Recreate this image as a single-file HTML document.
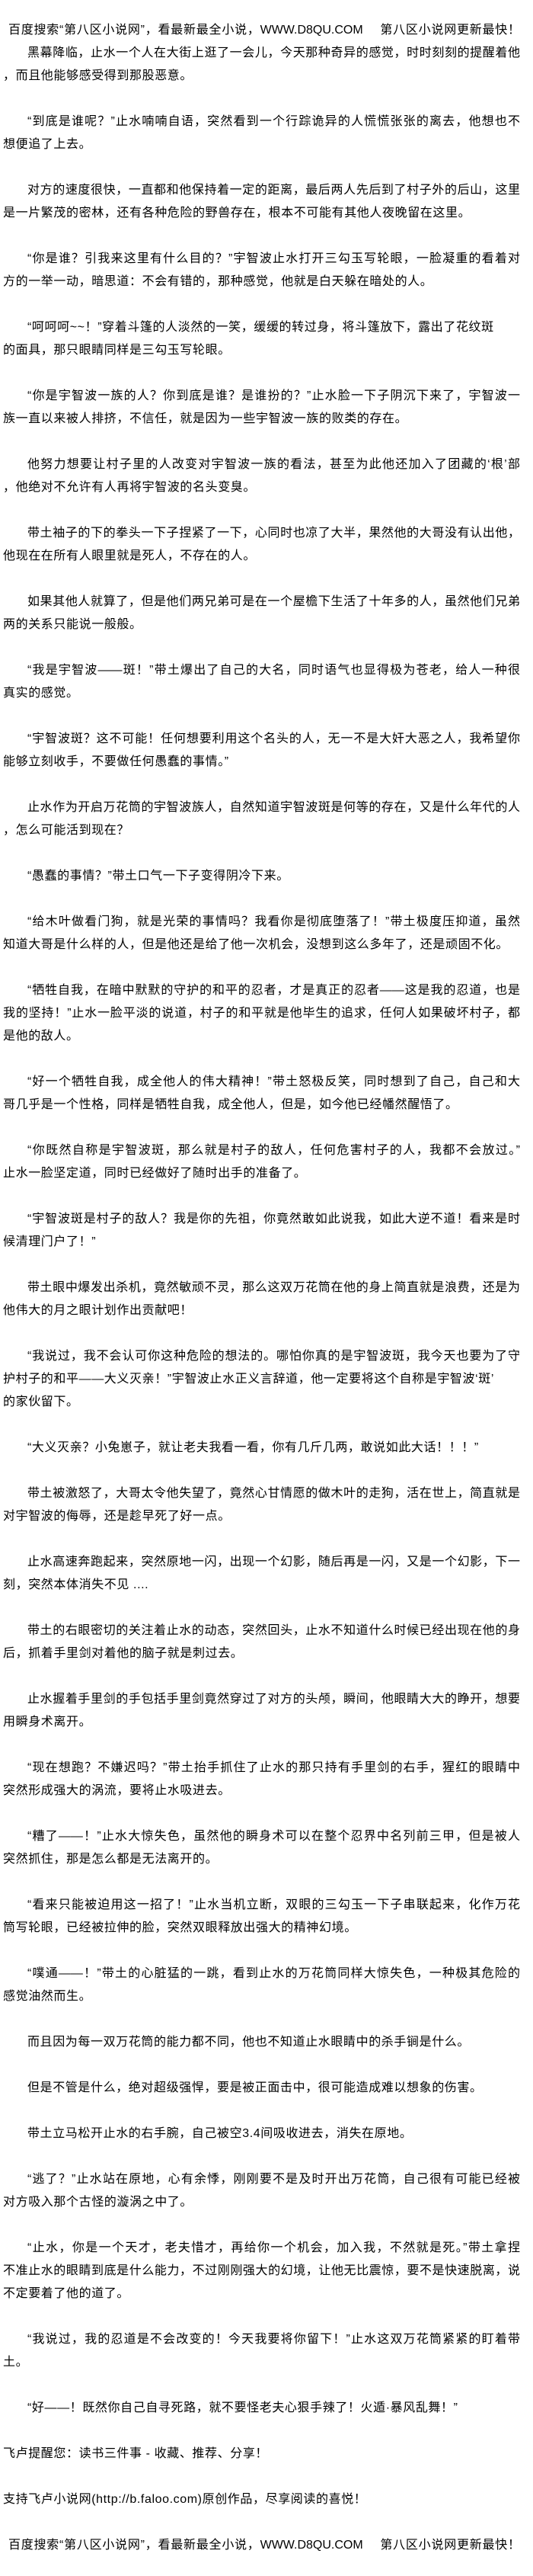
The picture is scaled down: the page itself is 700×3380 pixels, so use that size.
<!DOCTYPE html>
<html><head><meta charset="utf-8">
<style>
html,body{margin:0;padding:0;background:#fff;}
body{width:700px;height:3380px;overflow:hidden;}
#c{padding-top:25px;}
.l{height:30px;line-height:30px;white-space:nowrap;font-family:"Liberation Sans","Noto Sans CJK SC",sans-serif;font-size:16px;letter-spacing:0.6px;color:#000;padding-left:4px;box-sizing:border-box;}
.i{padding-left:36px;}
.h{padding-left:11px;}
.j{width:683px;text-align:justify;text-align-last:justify;letter-spacing:0;}
</style></head><body><div id="c">
<div class="l h j">百度搜索“第八区小说网”，看最新最全小说，WWW.D8QU.COM　 第八区小说网更新最快！</div>
<div class="l i j">黑幕降临，止水一个人在大街上逛了一会儿，今天那种奇异的感觉，时时刻刻的提醒着他</div>
<div class="l">，而且他能够感受得到那股恶意。</div>
<div class="l"></div>
<div class="l i j">“到底是谁呢？”止水喃喃自语，突然看到一个行踪诡异的人慌慌张张的离去，他想也不</div>
<div class="l">想便追了上去。</div>
<div class="l"></div>
<div class="l i j">对方的速度很快，一直都和他保持着一定的距离，最后两人先后到了村子外的后山，这里</div>
<div class="l">是一片繁茂的密林，还有各种危险的野兽存在，根本不可能有其他人夜晚留在这里。</div>
<div class="l"></div>
<div class="l i j">“你是谁？引我来这里有什么目的？”宇智波止水打开三勾玉写轮眼，一脸凝重的看着对</div>
<div class="l">方的一举一动，暗思道：不会有错的，那种感觉，他就是白天躲在暗处的人。</div>
<div class="l"></div>
<div class="l i">“呵呵呵~~！”穿着斗篷的人淡然的一笑，缓缓的转过身，将斗篷放下，露出了花纹斑</div>
<div class="l">的面具，那只眼睛同样是三勾玉写轮眼。</div>
<div class="l"></div>
<div class="l i j">“你是宇智波一族的人？你到底是谁？是谁扮的？”止水脸一下子阴沉下来了，宇智波一</div>
<div class="l">族一直以来被人排挤，不信任，就是因为一些宇智波一族的败类的存在。</div>
<div class="l"></div>
<div class="l i j">他努力想要让村子里的人改变对宇智波一族的看法，甚至为此他还加入了团藏的‘根’部</div>
<div class="l">，他绝对不允许有人再将宇智波的名头变臭。</div>
<div class="l"></div>
<div class="l i j">带土袖子的下的拳头一下子捏紧了一下，心同时也凉了大半，果然他的大哥没有认出他，</div>
<div class="l">他现在在所有人眼里就是死人，不存在的人。</div>
<div class="l"></div>
<div class="l i j">如果其他人就算了，但是他们两兄弟可是在一个屋檐下生活了十年多的人，虽然他们兄弟</div>
<div class="l">两的关系只能说一般般。</div>
<div class="l"></div>
<div class="l i j">“我是宇智波——斑！”带土爆出了自己的大名，同时语气也显得极为苍老，给人一种很</div>
<div class="l">真实的感觉。</div>
<div class="l"></div>
<div class="l i j">“宇智波斑？这不可能！任何想要利用这个名头的人，无一不是大奸大恶之人，我希望你</div>
<div class="l">能够立刻收手，不要做任何愚蠢的事情。”</div>
<div class="l"></div>
<div class="l i j">止水作为开启万花筒的宇智波族人，自然知道宇智波斑是何等的存在，又是什么年代的人</div>
<div class="l">，怎么可能活到现在？</div>
<div class="l"></div>
<div class="l i">“愚蠢的事情？”带土口气一下子变得阴冷下来。</div>
<div class="l"></div>
<div class="l i j">“给木叶做看门狗，就是光荣的事情吗？我看你是彻底堕落了！”带土极度压抑道，虽然</div>
<div class="l">知道大哥是什么样的人，但是他还是给了他一次机会，没想到这么多年了，还是顽固不化。</div>
<div class="l"></div>
<div class="l i j">“牺牲自我，在暗中默默的守护的和平的忍者，才是真正的忍者——这是我的忍道，也是</div>
<div class="l j">我的坚持！”止水一脸平淡的说道，村子的和平就是他毕生的追求，任何人如果破坏村子，都</div>
<div class="l">是他的敌人。</div>
<div class="l"></div>
<div class="l i j">“好一个牺牲自我，成全他人的伟大精神！”带土怒极反笑，同时想到了自己，自己和大</div>
<div class="l">哥几乎是一个性格，同样是牺牲自我，成全他人，但是，如今他已经幡然醒悟了。</div>
<div class="l"></div>
<div class="l i j">“你既然自称是宇智波斑，那么就是村子的敌人，任何危害村子的人，我都不会放过。”</div>
<div class="l">止水一脸坚定道，同时已经做好了随时出手的准备了。</div>
<div class="l"></div>
<div class="l i j">“宇智波斑是村子的敌人？我是你的先祖，你竟然敢如此说我，如此大逆不道！看来是时</div>
<div class="l">候清理门户了！”</div>
<div class="l"></div>
<div class="l i j">带土眼中爆发出杀机，竟然敏顽不灵，那么这双万花筒在他的身上简直就是浪费，还是为</div>
<div class="l">他伟大的月之眼计划作出贡献吧！</div>
<div class="l"></div>
<div class="l i j">“我说过，我不会认可你这种危险的想法的。哪怕你真的是宇智波斑，我今天也要为了守</div>
<div class="l">护村子的和平——大义灭亲！”宇智波止水正义言辞道，他一定要将这个自称是宇智波‘斑’</div>
<div class="l">的家伙留下。</div>
<div class="l"></div>
<div class="l i">“大义灭亲？小兔崽子，就让老夫我看一看，你有几斤几两，敢说如此大话！！！”</div>
<div class="l"></div>
<div class="l i j">带土被激怒了，大哥太令他失望了，竟然心甘情愿的做木叶的走狗，活在世上，简直就是</div>
<div class="l">对宇智波的侮辱，还是趁早死了好一点。</div>
<div class="l"></div>
<div class="l i j">止水高速奔跑起来，突然原地一闪，出现一个幻影，随后再是一闪，又是一个幻影，下一</div>
<div class="l">刻，突然本体消失不见 ....</div>
<div class="l"></div>
<div class="l i j">带土的右眼密切的关注着止水的动态，突然回头，止水不知道什么时候已经出现在他的身</div>
<div class="l">后，抓着手里剑对着他的脑子就是刺过去。</div>
<div class="l"></div>
<div class="l i j">止水握着手里剑的手包括手里剑竟然穿过了对方的头颅，瞬间，他眼睛大大的睁开，想要</div>
<div class="l">用瞬身术离开。</div>
<div class="l"></div>
<div class="l i j">“现在想跑？不嫌迟吗？”带土抬手抓住了止水的那只持有手里剑的右手，猩红的眼睛中</div>
<div class="l">突然形成强大的涡流，要将止水吸进去。</div>
<div class="l"></div>
<div class="l i j">“糟了——！”止水大惊失色，虽然他的瞬身术可以在整个忍界中名列前三甲，但是被人</div>
<div class="l">突然抓住，那是怎么都是无法离开的。</div>
<div class="l"></div>
<div class="l i j">“看来只能被迫用这一招了！”止水当机立断，双眼的三勾玉一下子串联起来，化作万花</div>
<div class="l">筒写轮眼，已经被拉伸的脸，突然双眼释放出强大的精神幻境。</div>
<div class="l"></div>
<div class="l i j">“噗通——！”带土的心脏猛的一跳，看到止水的万花筒同样大惊失色，一种极其危险的</div>
<div class="l">感觉油然而生。</div>
<div class="l"></div>
<div class="l i">而且因为每一双万花筒的能力都不同，他也不知道止水眼睛中的杀手锏是什么。</div>
<div class="l"></div>
<div class="l i">但是不管是什么，绝对超级强悍，要是被正面击中，很可能造成难以想象的伤害。</div>
<div class="l"></div>
<div class="l i">带土立马松开止水的右手腕，自己被空3.4间吸收进去，消失在原地。</div>
<div class="l"></div>
<div class="l i j">“逃了？”止水站在原地，心有余悸，刚刚要不是及时开出万花筒，自己很有可能已经被</div>
<div class="l">对方吸入那个古怪的漩涡之中了。</div>
<div class="l"></div>
<div class="l i j">“止水，你是一个天才，老夫惜才，再给你一个机会，加入我，不然就是死。”带土拿捏</div>
<div class="l j">不准止水的眼睛到底是什么能力，不过刚刚强大的幻境，让他无比震惊，要不是快速脱离，说</div>
<div class="l">不定要着了他的道了。</div>
<div class="l"></div>
<div class="l i j">“我说过，我的忍道是不会改变的！今天我要将你留下！”止水这双万花筒紧紧的盯着带</div>
<div class="l">土。</div>
<div class="l"></div>
<div class="l i">“好——！既然你自己自寻死路，就不要怪老夫心狠手辣了！火遁·暴风乱舞！”</div>
<div class="l"></div>
<div class="l">飞卢提醒您：读书三件事 - 收藏、推荐、分享！</div>
<div class="l"></div>
<div class="l">支持飞卢小说网(http://b.faloo.com)原创作品，尽享阅读的喜悦！</div>
<div class="l"></div>
<div class="l h j">百度搜索“第八区小说网”，看最新最全小说，WWW.D8QU.COM　 第八区小说网更新最快！</div>
</div></body></html>
